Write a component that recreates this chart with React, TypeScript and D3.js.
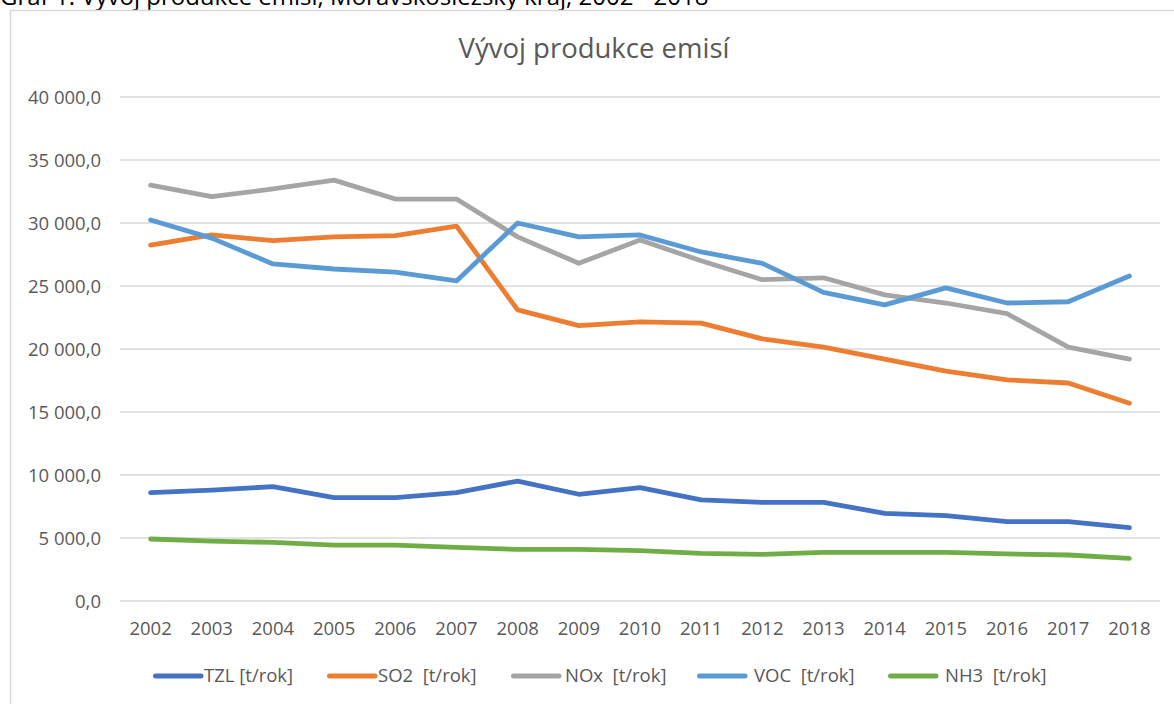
import React from "react";
import * as d3 from "d3";

const years = ["2002","2003","2004","2005","2006","2007","2008","2009","2010","2011","2012","2013","2014","2015","2016","2017","2018"];
const tzl = [8600,8800,9070,8200,8200,8600,9520,8470,9000,8020,7830,7830,6960,6770,6300,6300,5820];
const so2 = [28250,29050,28600,28900,29000,29750,23100,21850,22150,22050,20800,20150,19200,18250,17550,17300,15700];
const nox = [33000,32100,32700,33400,31900,31900,28900,26800,28650,27000,25500,25650,24300,23650,22800,20150,19200];
const voc = [30240,28800,26750,26350,26100,25400,30000,28900,29050,27700,26800,24500,23500,24850,23650,23750,25800];
const nh3 = [4920,4760,4650,4440,4440,4250,4100,4100,4000,3780,3700,3860,3860,3860,3740,3650,3390];
const yTicks = [0,5000,10000,15000,20000,25000,30000,35000,40000];
const seriesNames = ["TZL [t/rok]","SO2  [t/rok]","NOx  [t/rok]","VOC  [t/rok]","NH3  [t/rok]"];
const seriesColors = ["#4472C4","#ED7D31","#A5A5A5","#5B9BD5","#70AD47"];
const seriesData = [tzl, so2, nox, voc, nh3];

const title = "Vývoj produkce emisí";
const caption = "Graf 1: Vývoj produkce emisí, Moravskoslezský kraj, 2002 - 2018";

const fmt = d3.formatLocale({ decimal: ",", thousands: " ", grouping: [3], currency: ["", ""] }).format(",.1f");

export default function App() {
  const W = 1174, H = 704;
  const x = d3.scaleBand<string>().domain(years).range([120, 1160]);
  const y = d3.scaleLinear().domain([0, 40000]).range([601, 97]);
  const cx = (d: string) => (x(d) as number) + x.bandwidth() / 2;
  const line = d3.line<number>().x((_, i) => cx(years[i])).y((v) => y(v));
  const font = "'Open Sans', sans-serif";
  const legendX = [153, 327, 511, 697, 888];
  const legendTextOff = [51, 51, 54, 57, 57];
  return (
    <svg width={W} height={H} style={{ position: "absolute", left: 0, top: 0, background: "#fff" }} fontFamily={font}>
      <rect x={0} y={0} width={W} height={H} fill="#fff" />
      <text x={0} y={5} fontSize={24} fill="#000">{caption}</text>
      <path d={`M10.5,${H + 2}V10.5H${W + 2}`} fill="none" stroke="#d9d9d9" strokeWidth={1.5} />
      <text x={594} y={58} textAnchor="middle" fontSize={27.5} fill="#595959">{title}</text>
      {yTicks.map((t) => (
        <g key={t}>
          <line x1={120} x2={1160} y1={y(t)} y2={y(t)} stroke="#d9d9d9" strokeWidth={1.5} />
          <text x={101} y={y(t) + 0.5} dy="0.35em" textAnchor="end" fontSize={18.5} fill="#595959">{fmt(t)}</text>
        </g>
      ))}
      {years.map((yr) => (
        <text key={yr} x={cx(yr)} y={628.5} dy="0.35em" textAnchor="middle" fontSize={18.5} fill="#595959">{yr}</text>
      ))}
      {seriesData.map((d, i) => (
        <path key={i} d={line(d) as string} fill="none" stroke={seriesColors[i]} strokeWidth={4.8} strokeLinecap="round" strokeLinejoin="round" />
      ))}
      {seriesNames.map((n, i) => (
        <g key={n}>
          <line x1={legendX[i] + 2.5} x2={legendX[i] + 48} y1={676} y2={676} stroke={seriesColors[i]} strokeWidth={5} strokeLinecap="round" />
          <text x={legendX[i] + legendTextOff[i]} y={676} dy="0.35em" fontSize={18.5} fill="#595959" style={{ whiteSpace: "pre" }}>{n}</text>
        </g>
      ))}
    </svg>
  );
}
